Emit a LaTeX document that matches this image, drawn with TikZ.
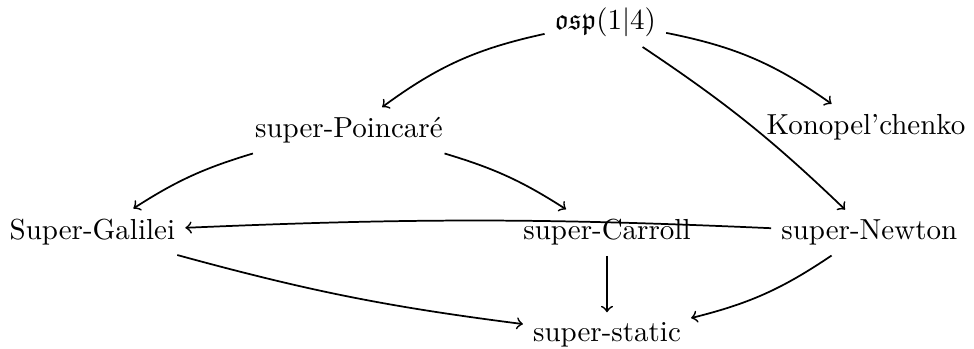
\documentclass[tikz,border=0pt]{standalone}
\usepackage{amsmath,amssymb}
\usepackage{tikz}
\usetikzlibrary{arrows,positioning,calc}

\begin{document}
\begin{tikzpicture}[every edge/.style={draw,semithick,->}]
    \useasboundingbox (0,0) rectangle (11.81,4.23);

    \node (osp) at (7.34,3.96) {$\mathfrak{osp}(1|4)$};
    \node (poinc) at (4.23,2.65) {super-Poincar\'e};
    \node (konop) at (10.50,2.69) {Konopel'chenko};
    \node (galilei) at (1.12,1.42) {Super-Galilei};
    \node (carroll) at (7.36,1.41) {super-Carroll};
    \node (newton) at (10.54,1.41) {super-Newton};
    \node (static) at (7.36,0.17) {super-static};

    \path (osp) edge[bend right=12] (poinc);
    \path (osp) edge[bend left=12] (konop);
    \path (osp) edge[bend left=5] (newton);
    \path (poinc) edge[bend right=8] (galilei);
    \path (poinc) edge[bend left=8] (carroll);
    \path (newton) edge[bend right=2.5] (galilei);
    \path (carroll) edge (static);
    \path (galilei) edge[bend right=4] (static);
    \path (newton) edge[bend left=10] (static);
\end{tikzpicture}
\end{document}
